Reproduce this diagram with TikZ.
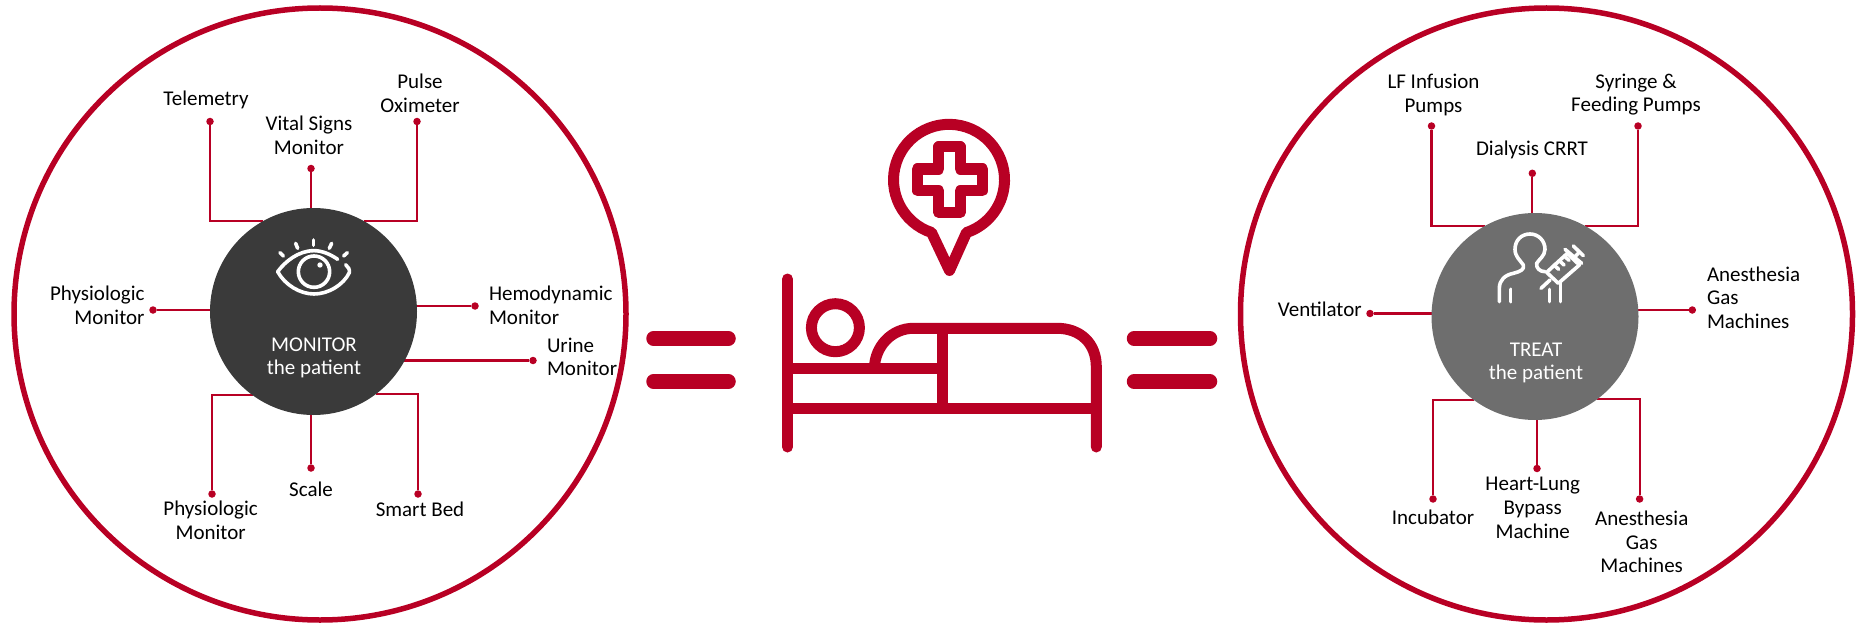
\documentclass[tikz,border=0pt]{standalone}
\usepackage{fontspec}
\setmainfont{Carlito}
\usetikzlibrary{backgrounds}
\definecolor{rd}{HTML}{B80024}
\definecolor{dk}{HTML}{3A3A3A}
\definecolor{gy}{HTML}{6E6E6E}
\tikzset{
 lbl/.style={inner sep=0pt,outer sep=0pt,align=center,text=black,font=\fontsize{21}{23.7}\selectfont},
 lbll/.style={lbl,align=left,anchor=west},
 lblr/.style={lbl,align=right,anchor=east},
 hubtxt/.style={lbl,text=white},
 hubnode/.style={circle,inner sep=0pt,outer sep=0pt,minimum size=207pt,draw=none},
 dotnode/.style={circle,fill=rd,inner sep=0pt,outer sep=0pt,minimum size=7.5pt},
 conn/.style={draw=rd,line width=2.2pt},
 ring/.style={draw=rd,line width=5.5pt},
 icon/.style={draw=rd,line width=11pt,line join=round,line cap=round},
 wicon/.style={draw=white,line width=3.6pt,line join=round,line cap=round},
}
\begin{document}
\begin{tikzpicture}[x=1pt,y=-1pt]
\useasboundingbox (0,0) rectangle (1858,623);
% outer rings
\draw[ring] (320,314) circle (306);
\draw[ring] (1546.5,314) circle (306);
% hubs
\node[hubnode,fill=dk] (hubL) at (313.5,311.5) {};
\node[hubnode,fill=gy] (hubR) at (1535,316.5) {};
\node[hubtxt] (monT) at (314,358) {MONITOR\\the patient};
\node[hubtxt] (treT) at (1536,363) {TREAT\\the patient};
% left dots
\node[dotnode] (tele) at (210,121.5) {};
\node[dotnode] (vital) at (311,168.5) {};
\node[dotnode] (pulse) at (417,121.5) {};
\node[dotnode] (physL) at (153,310) {};
\node[dotnode] (hemo) at (475,306) {};
\node[dotnode] (urine) at (533,360.5) {};
\node[dotnode] (physB) at (212,494) {};
\node[dotnode] (scale) at (311,468) {};
\node[dotnode] (smart) at (418,494) {};
% left labels
\node[lbl] (teleT) at (206,100) {Telemetry};
\node[lbl] (vitalT) at (309,135.5) {Vital Signs\\Monitor};
\node[lbl] (pulseT) at (420,93) {Pulse\\Oximeter};
\node[lblr] (physLT) at (144.5,305) {Physiologic\\Monitor};
\node[lbll] (hemoT) at (489,305) {Hemodynamic\\Monitor};
\node[lbll] (urineT) at (547,357) {Urine\\Monitor};
\node[lbl] (physBT) at (210.6,520.5) {Physiologic\\Monitor};
\node[lbl] (scaleT) at (311,489) {Scale};
\node[lbl] (smartT) at (420,509) {Smart Bed};
% right dots
\node[dotnode] (lf) at (1431.5,126) {};
\node[dotnode] (dial) at (1532.3,173.3) {};
\node[dotnode] (syr) at (1638,126) {};
\node[dotnode] (vent) at (1370,313.5) {};
\node[dotnode] (anR) at (1692.3,310) {};
\node[dotnode] (incu) at (1433,499) {};
\node[dotnode] (heart) at (1537,468.5) {};
\node[dotnode] (anB) at (1639.6,499) {};
% right labels
\node[lbl] (lfT) at (1433.5,95) {LF Infusion\\Pumps};
\node[lbl] (dialT) at (1532,150) {Dialysis CRRT};
\node[lbl] (syrT) at (1636,94.5) {Syringe \&\\Feeding Pumps};
\node[lblr] (ventT) at (1361.7,309) {Ventilator};
\node[lbll] (anRT) at (1707,297.6) {Anesthesia\\Gas\\Machines};
\node[lbl] (incuT) at (1433,517) {Incubator};
\node[lbl] (heartT) at (1532.7,508) {Heart-Lung\\Bypass\\Machine};
\node[lbl] (anBT) at (1641.7,542) {Anesthesia\\Gas\\Machines};
% connectors
\begin{scope}[on background layer]
\draw[conn] (tele) |- (hubL.119);
\draw[conn] (pulse) |- (hubL.61);
\draw[conn] (vital) -- (vital |- hubL);
\draw[conn] (physL) -- (physL -| hubL);
\draw[conn] (hemo) -- (hemo -| hubL);
\draw[conn] (urine) -- (urine -| hubL);
\draw[conn] (physB) |- (hubL.-126.2);
\draw[conn] (smart) |- (hubL.-53.8);
\draw[conn] (scale) -- (scale |- hubL);
\draw[conn] (lf) |- (hubR.119);
\draw[conn] (syr) |- (hubR.61);
\draw[conn] (dial) -- (dial |- hubR);
\draw[conn] (vent) -- (vent -| hubR);
\draw[conn] (anR) -- (anR -| hubR);
\draw[conn] (incu) |- (hubR.-126.2);
\draw[conn] (anB) |- (hubR.-53.8);
\draw[conn] (heart) -- (heart |- hubR);
\end{scope}
% equals
\draw[draw=rd,line width=14.5pt,line cap=round] (653.5,338.5) -- (728.5,338.5);
\draw[draw=rd,line width=14.5pt,line cap=round] (653.5,381.5) -- (728.5,381.5);
\draw[draw=rd,line width=14.5pt,line cap=round] (1134,338.5) -- (1210,338.5);
\draw[draw=rd,line width=14.5pt,line cap=round] (1134,381.5) -- (1210,381.5);
% bed
\draw[icon] (787.5,279) -- (787.5,447);
\draw[icon] (1096.3,447) -- (1096.3,366.7) .. controls (1096.3,343) and (1080,328.3) .. (1057,328.3) -- (913.5,328.3) .. controls (892,328.3) and (875,346) .. (874.4,368);
\draw[icon] (787.5,368) -- (942.3,368);
\draw[icon,line cap=butt] (942.3,328.3) -- (942.3,408.7);
\draw[icon,line cap=butt] (787.5,408.7) -- (1096.3,408.7);
\draw[icon] (835.4,327.7) circle (24);
% pin
\draw[icon] (949.5,270.5) -- (931.5,232.5) arc (108.4:431.6:55.5) -- cycle;
% cross
\draw[icon] (938.8,147) -- (960.3,147) -- (960.3,169) -- (982.5,169) -- (982.5,190.7) -- (960.3,190.7) -- (960.3,212.3) -- (938.8,212.3) -- (938.8,190.7) -- (917.4,190.7) -- (917.4,169) -- (938.8,169) -- cycle;
% eye icon
\begin{scope}[shift={(240,220)},x=0.33333pt,y=-0.33333pt]
\draw[wicon] (293,118) .. controls (270,102) and (245,92) .. (222,92) .. controls (175,92) and (135,125) .. (113,155) .. controls (135,195) and (180,222) .. (222,222) .. controls (265,222) and (310,195) .. (328,158) .. controls (330,150) and (325,140) .. (317,134);
\draw[wicon] (222,155) circle (47);
\fill[white] (240,135) circle (8);
\draw[wicon] (120,98) -- (130,108);
\draw[wicon] (167,70) -- (173,85);
\draw[wicon] (221,60) -- (221,76);
\draw[wicon] (275,70) -- (268,85);
\draw[wicon] (322,98) -- (311,108);
\end{scope}
% treat icon
\begin{scope}[shift={(1470,220)},x=0.33333pt,y=-0.33333pt]
\draw[wicon] (88,245) -- (88,205) .. controls (88,180) and (105,165) .. (130,160) .. controls (150,155) and (165,148) .. (160,135) .. controls (150,120) and (135,110) .. (135,88) .. controls (135,60) and (155,42) .. (180,42) .. controls (205,42) and (225,62) .. (225,88) .. controls (225,108) and (205,120) .. (200,130) .. controls (198,145) and (210,155) .. (225,155);
\draw[wicon] (122,208) -- (122,245);
\draw[wicon] (238,208) -- (238,245);
\draw[wicon] (272,190) -- (272,245);
\draw[wicon] (213,205) -- (240,180);
\draw[wicon] (230,157) -- (292,100) -- (328,135) -- (265,190) -- cycle;
\draw[wicon] (285,88) -- (335,130);
\draw[wicon] (310,115) -- (325,100);
\draw[wicon] (310,78) -- (340,107);
\draw[wicon] (252,135) -- (266,148);
\draw[wicon] (268,122) -- (282,135);
\draw[wicon] (283,108) -- (297,121);
\end{scope}
\end{tikzpicture}
\end{document}
